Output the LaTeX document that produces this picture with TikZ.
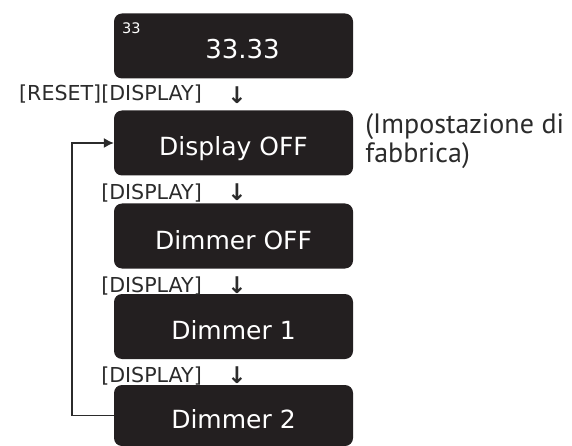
\documentclass[tikz,border=0pt]{standalone}
\usepackage{fontspec}
\setmainfont{DejaVu Sans}
\newfontfamily\notefont{PT Sans}
\usetikzlibrary{arrows.meta,positioning}
\definecolor{cbox}{HTML}{231F20}
\definecolor{ctext}{HTML}{2B2B2B}
\tikzset{
  screen/.style={draw=none, fill=cbox, rounded corners=8pt, minimum width=239pt, minimum height=65pt, inner sep=0pt, text=white, font=\fontsize{25}{30}\selectfont, text height=26pt, text depth=0pt},
  small/.style={anchor=base west, inner sep=0pt, text=white, font=\fontsize{14.5}{16}\selectfont},
  big/.style={anchor=base, inner sep=0pt, text=white, font=\fontsize{26}{30}\selectfont},
  key/.style={anchor=base east, inner sep=0pt, text=ctext, font=\fontsize{20.6}{24}\selectfont},
  down/.style={anchor=base, inner sep=0pt, text=ctext, font=\bfseries\fontsize{23}{26}\selectfont},
  note/.style={anchor=west, align=left, inner sep=0pt, text=ctext, font=\notefont\fontsize{28}{29}\selectfont},
  pre/.style={-{Latex[length=10pt,width=10pt]}, line width=1.3pt, draw=ctext},
}

\begin{document}
\begin{tikzpicture}[x=1pt,y=-1pt]
\useasboundingbox (0,0) rectangle (572,446);
% ---------------- screens
\node[screen] (s0) at (233.5,46) {};
\node[small] (v0) at (122,34) {33};
\node[big] (v1) at (242.5,59) {33.33};
\node[screen] (s1) at (233.5,143) {Display OFF};
\node[screen] (s2) at (233.5,236) {Dimmer OFF};
\node[screen] (s3) at (233.5,326.5) {Dimmer 1};
\node[screen, minimum height=61pt] (s4) at (233.5,415.5) {Dimmer 2};
% ---------------- keys
\node[key] (k0) at (202,101) {[RESET][DISPLAY]};
\node[key] (k1) at (202,200) {[DISPLAY]};
\node[key] (k2) at (202,292) {[DISPLAY]};
\node[key] (k3) at (202,382) {[DISPLAY]};
\foreach \i/\y in {0/104, 1/201, 2/293, 3/383} {
  \node[down] (a\i) at (237,\y) {↓};
}
% ---------------- loop back and note
\coordinate (turn) at (72,143);
\draw[pre] (s4.west) -| (turn) -- (s1.west);
\node[note, right=12pt of s1, yshift=2pt] (n1) {(Impostazione di\\fabbrica)};
\end{tikzpicture}
\end{document}
